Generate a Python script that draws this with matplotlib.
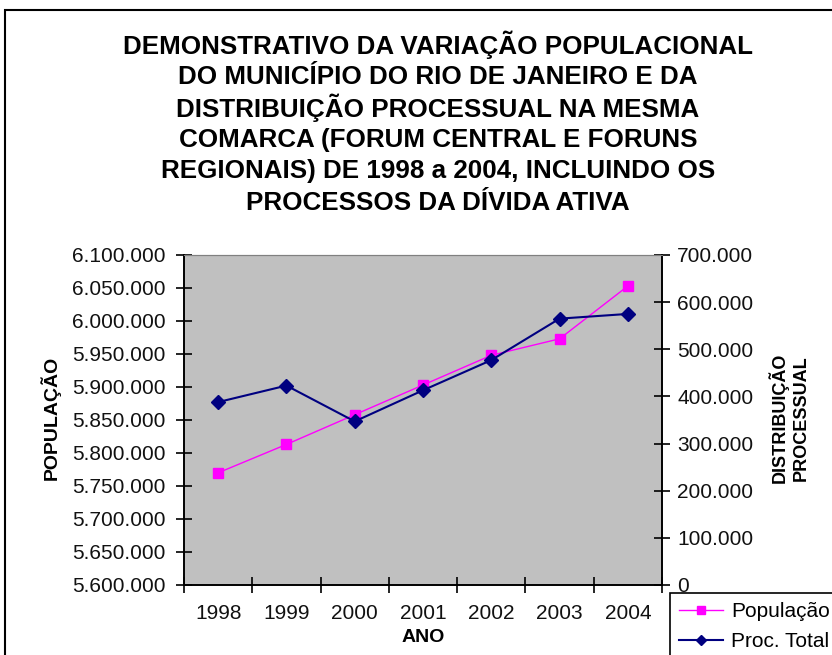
import matplotlib
matplotlib.use("Agg")
import matplotlib.pyplot as plt
from matplotlib.patches import Rectangle
from matplotlib.lines import Line2D
import matplotlib.ticker as mticker

plt.rcParams['font.family'] = ['Liberation Sans', 'DejaVu Sans']

# ---- data ----
anos = ['1998', '1999', '2000', '2001', '2002', '2003', '2004']
populacao = [5770000, 5813000, 5858000, 5903000, 5948000, 5973000, 6053000]
proc_total = [388000, 423000, 347000, 413000, 477000, 565000, 575000]

title_lines = [
    "DEMONSTRATIVO DA VARIAÇÃO POPULACIONAL",
    "DO MUNICÍPIO DO RIO DE JANEIRO E DA",
    "DISTRIBUIÇÃO PROCESSUAL NA MESMA",
    "COMARCA (FORUM CENTRAL E FORUNS",
    "REGIONAIS) DE 1998 a 2004, INCLUINDO OS",
    "PROCESSOS DA DÍVIDA ATIVA",
]

W, H = 832, 655
fig = plt.figure(figsize=(W / 100, H / 100), dpi=100)
fig.patch.set_facecolor('white')

# outer chart frame (extends beyond right/bottom)
fig.patches.append(Rectangle((5 / W, -0.05), 1.2, 1 - 10 / H + 0.05,
                             transform=fig.transFigure, fill=False,
                             edgecolor='black', linewidth=1.5))

for i, line in enumerate(title_lines):
    fig.text(438 / W, 1 - (45 + i * 31.6) / H, line, ha='center', va='center',
             fontsize=18.7, fontweight='bold', color='black')

ax = fig.add_axes([184 / W, 1 - 585 / H, (662 - 184) / W, (585 - 255) / H])
ax.set_facecolor('#C0C0C0')
x = list(range(len(anos)))

ax.plot(x, populacao, color='#FF00FF', linewidth=1.0, marker='s',
        markersize=7.5, markerfacecolor='#FF00FF', markeredgecolor='#FF00FF',
        zorder=3)
ax.set_xlim(-0.5, len(anos) - 0.5)
ax.set_ylim(5600000, 6100000)
ax.yaxis.set_major_locator(mticker.MultipleLocator(50000))

def fmt(v, pos):
    return f"{int(round(v)):,}".replace(',', '.')

ax.yaxis.set_major_formatter(mticker.FuncFormatter(fmt))
ax.set_xticks(x)
ax.set_xticklabels(anos)
ax.set_xticks([i + 0.5 for i in range(-1, len(anos))], minor=True)
ax.tick_params(axis='x', which='major', length=0, pad=14, labelsize=15,
               labelcolor='#111111')
ax.tick_params(axis='x', which='minor', length=12, direction='inout', width=1.2)
ax.tick_params(axis='y', which='major', length=12, direction='inout', width=1.2,
               pad=7.5, labelsize=15, labelcolor='#111111')

ax2 = ax.twinx()
ax2.plot(x, proc_total, color='#000080', linewidth=1.5, marker='D',
         markersize=7, markerfacecolor='#000080', markeredgecolor='#000080',
         zorder=3)
ax2.set_ylim(0, 700000)
ax2.yaxis.set_major_locator(mticker.MultipleLocator(100000))
ax2.yaxis.set_major_formatter(mticker.FuncFormatter(fmt))
ax2.tick_params(axis='y', which='major', length=12, direction='inout', width=1.2,
                pad=5, labelsize=15, labelcolor='#111111')

for a in (ax, ax2):
    a.spines['top'].set_color('#808080')
    a.spines['left'].set_linewidth(1.2)
    a.spines['right'].set_linewidth(1.2)
    a.spines['bottom'].set_linewidth(1.2)

fig.text(50 / W, 1 - 418 / H, "POPULAÇÃO", rotation=90, ha='center',
         va='center', fontsize=14, fontweight='bold')
fig.text(423 / W, 1 - 637 / H, "ANO", ha='center', va='center',
         fontsize=14, fontweight='bold')
fig.text(789 / W, 1 - 418 / H, "DISTRIBUIÇÃO\nPROCESSUAL", rotation=90,
         ha='center', va='center', fontsize=13,
         fontweight='bold', linespacing=1.25, multialignment='center')

handles = [
    Line2D([], [], color='#FF00FF', linewidth=1.0, marker='s', markersize=6,
           markerfacecolor='#FF00FF', markeredgecolor='#FF00FF'),
    Line2D([], [], color='#000080', linewidth=1.5, marker='D', markersize=5.5,
           markerfacecolor='#000080', markeredgecolor='#000080'),
]
leg = fig.legend(handles, ['População', 'Proc. Total'], loc='upper left',
                 bbox_to_anchor=(670 / W, 1 - 593 / H), fontsize=15,
                 frameon=True, fancybox=False, framealpha=1, edgecolor='black',
                 handlelength=2.1, handletextpad=0.4, borderpad=0.45,
                 labelspacing=0.5, borderaxespad=0)
leg.get_frame().set_linewidth(1.2)

fig.savefig('out.png', dpi=100)
